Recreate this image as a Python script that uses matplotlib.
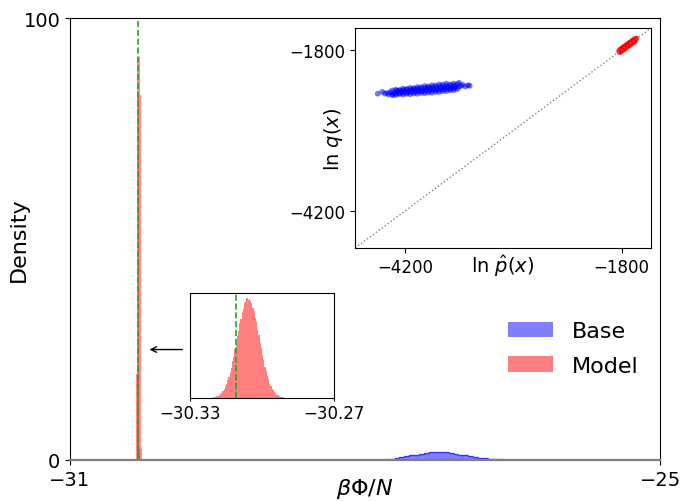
import numpy as np
import matplotlib
matplotlib.use("Agg")
import matplotlib.pyplot as plt
from matplotlib.patches import Patch

# ---------------- data ----------------
# Model histogram (density), bins of width 0.0005 starting at -30.322
model_bin_start = -30.322
model_bin_width = 0.0005
model_heights = [0.2, 0.3, 0.5, 0.6, 0.8, 1.3, 1.5, 2.3, 2.8, 4.0,
                 5.0, 6.9, 8.2, 10.8, 12.7, 16.5, 19.3, 24.1, 27.6, 33.8,
                 37.5, 44.6, 49.0, 56.5, 61.0, 68.4, 72.5, 79.0, 81.6, 86.9,
                 88.0, 91.3, 90.2, 91.0, 88.4, 87.2, 82.5, 79.8, 73.6, 69.3,
                 62.1, 57.5, 50.2, 45.9, 39.0, 34.6, 28.5, 24.9, 20.0, 17.1,
                 13.2, 11.3, 8.6, 7.1, 5.2, 4.2, 3.0, 2.4, 1.6, 1.3,
                 0.9, 0.7, 0.4, 0.3]
# Base histogram (density), bins of width 0.05 starting at -27.95
base_bin_start = -27.95
base_bin_width = 0.05
base_heights = [0.02, 0.05, 0.10, 0.18, 0.30, 0.45, 0.62, 0.82, 1.02, 1.22,
                1.42, 1.60, 1.72, 1.80, 1.78, 1.70, 1.58, 1.42, 1.24, 1.05,
                0.86, 0.68, 0.52, 0.39, 0.28, 0.20, 0.14, 0.10, 0.07, 0.05,
                0.04, 0.03, 0.03, 0.02, 0.02, 0.01, 0.01, 0.01, 0.01, 0.01,
                0.01]
ref_value = -30.311  # green dashed line

# scatter inset: ln p_hat(x) vs ln q(x)
blue_x = [
    -4340, -4300, -4260, -4220, -4180, -4140, -4100, -4060, -4020, -3980,
    -3940, -3900, -3860, -3820, -3780, -3740, -3700, -3660, -3620,
    -4360, -4320, -4280, -4240, -4200, -4160, -4120, -4080, -4040, -4000,
    -3960, -3920, -3880, -3840, -3800, -3760, -3720, -3680, -3640, -3600,
    -4340, -4300, -4260, -4220, -4180, -4140, -4100, -4060, -4020, -3980,
    -3940, -3900, -3860, -3820, -3780, -3740, -3700, -3660, -3620,
    -4290, -4250, -4210, -4170, -4130, -4090, -4050, -4010, -3970, -3930,
    -3890, -3850, -3810, -3770, -3730, -3690, -3650,
    -4290, -4250, -4210, -4170, -4130, -4090, -4050, -4010, -3970, -3930,
    -3890, -3850, -3810, -3770, -3730, -3690, -3650,
    -4500, -4450, -4420, -4395, -4380, -3580, -3560, -3530, -3500, -3482,
    -4330, -3600]
blue_y = [
    -2404, -2391, -2399, -2378, -2382, -2365, -2370, -2353, -2356, -2339,
    -2343, -2327, -2330, -2315, -2318, -2303, -2314, -2302, -2311,
    -2431, -2440, -2417, -2426, -2411, -2423, -2396, -2408, -2391, -2406,
    -2374, -2390, -2370, -2383, -2358, -2370, -2352, -2366, -2346, -2350,
    -2462, -2469, -2457, -2465, -2453, -2460, -2448, -2453, -2440, -2446,
    -2434, -2438, -2425, -2427, -2413, -2413, -2399, -2398, -2384,
    -2410, -2401, -2399, -2390, -2391, -2380, -2378, -2371, -2368, -2362,
    -2359, -2352, -2348, -2344, -2338, -2336, -2330,
    -2449, -2445, -2437, -2436, -2428, -2426, -2419, -2417, -2411, -2407,
    -2402, -2398, -2392, -2389, -2383, -2378, -2374,
    -2452, -2425, -2450, -2440, -2465, -2335, -2318, -2345, -2325, -2333,
    -2475, -2290]
red_x = [-1830, -1815, -1800, -1790, -1780, -1770, -1760, -1750, -1740, -1730,
         -1720, -1710, -1700, -1690, -1680, -1670, -1660, -1645, -1635,
         -1820, -1805, -1785, -1765, -1745, -1725, -1705, -1685, -1665, -1650,
         -1810, -1775, -1735, -1695, -1655]
red_y = [-1815, -1790, -1782, -1768, -1762, -1748, -1742, -1730, -1722, -1710,
         -1702, -1690, -1683, -1672, -1664, -1652, -1645, -1632, -1630,
         -1838, -1825, -1806, -1788, -1768, -1748, -1728, -1706, -1688, -1672,
         -1812, -1777, -1737, -1697, -1657]
scatter_lim = [-4750, -1475]

model_edges = [model_bin_start + model_bin_width * k
               for k in range(len(model_heights) + 1)]
base_edges = [base_bin_start + base_bin_width * k
              for k in range(len(base_heights) + 1)]

# ---------------- figure ----------------
fig = plt.figure(figsize=(6.83, 5.02), dpi=100)
ax = fig.add_axes([0.1025, 0.0817, 0.864, 0.880])

blue_c = "blue"
red_c = "red"

ax.hist(base_edges[:-1], bins=base_edges, weights=base_heights,
        histtype="stepfilled", color=blue_c, alpha=0.5)
ax.hist(base_edges[:-1], bins=base_edges, weights=base_heights,
        histtype="step", color=blue_c, alpha=0.6, lw=1)
ax.hist(model_edges[:-1], bins=model_edges, weights=model_heights,
        histtype="stepfilled", color=red_c, alpha=0.5)
ax.hist(model_edges[:-1], bins=model_edges, weights=model_heights,
        histtype="step", color=red_c, alpha=0.45, lw=2.2)
ax.axvline(ref_value, color="tab:green", ls="--", lw=1.2)

ax.set_xlim(-31, -25)
ax.set_ylim(0, 100)
ax.set_xticks([-31, -25])
ax.set_yticks([0, 100])
ax.tick_params(labelsize=14, length=3.5)
ax.spines["bottom"].set_color("#808080")
ax.spines["bottom"].set_linewidth(1.6)
ax.set_xlabel(r"$\beta\Phi/N$", fontsize=16, labelpad=-9)
ax.set_ylabel("Density", fontsize=16, labelpad=-4)

legend_handles = [Patch(facecolor=blue_c, alpha=0.5, label="Base"),
                  Patch(facecolor=red_c, alpha=0.5, label="Model")]
ax.legend(handles=legend_handles, loc="center", bbox_to_anchor=(0.853, 0.252),
          frameon=False, fontsize=16, handlelength=2.0, handletextpad=0.85,
          labelspacing=0.65)

ax.annotate("", xy=(-30.22, 25.0), xytext=(-29.83, 25.0),
            arrowprops=dict(arrowstyle="->", color="black", lw=1))

# inset: zoom on model histogram
axh = fig.add_axes([0.278, 0.205, 0.211, 0.209])
axh.hist(model_edges[:-1], bins=model_edges, weights=model_heights,
         histtype="stepfilled", color=red_c, alpha=0.5)
axh.axvline(ref_value, color="tab:green", ls="--", lw=1.2)
axh.set_xlim(-30.33, -30.27)
axh.set_ylim(0, 96)
axh.set_xticks([-30.33, -30.27])
axh.set_xticklabels(["\u221230.33", "\u221230.27"])
axh.set_yticks([])
axh.tick_params(labelsize=12, length=2, pad=2)

# inset: scatter
axs = fig.add_axes([0.520, 0.504, 0.433, 0.438])
axs.plot(scatter_lim, scatter_lim, ls=":", color="gray", lw=1)
axs.scatter(blue_x, blue_y, s=17, color=blue_c, alpha=0.55, edgecolors="none")
axs.scatter(red_x, red_y, s=15, color=red_c, alpha=0.7, edgecolors="none")
axs.set_xlim(scatter_lim)
axs.set_ylim(scatter_lim)
axs.set_xticks([-4200, -1800])
axs.set_yticks([-4200, -1800])
axs.tick_params(labelsize=12, length=3.5)
axs.set_xlabel(r"ln $\hat{p}(x)$", fontsize=14, labelpad=-17)
axs.set_ylabel(r"ln $q(x)$", fontsize=14, labelpad=-40)

fig.savefig("out.png", dpi=100)
